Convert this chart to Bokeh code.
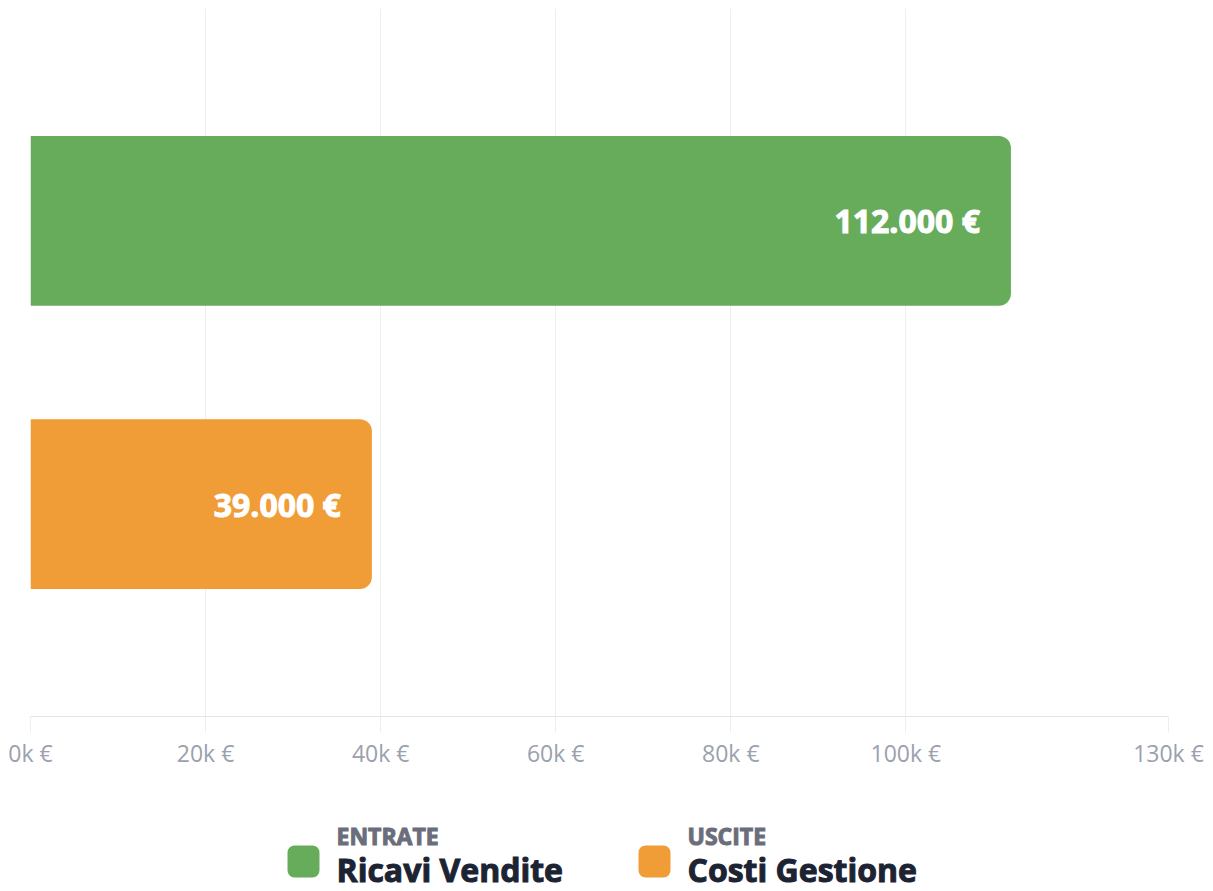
from bokeh.plotting import figure
from bokeh.layouts import column
from bokeh.models import Range1d, FixedTicker, ColumnDataSource
from bokeh.core.properties import value
from bokeh.embed import file_html
from bokeh.resources import INLINE

# ---- data ----
groups = ["ENTRATE", "USCITE"]
names = ["Ricavi Vendite", "Costi Gestione"]
amounts = [112000, 39000]
bar_labels = ["112.000 €", "39.000 €"]
colors = ["#67ac5b", "#f09d38"]
tick_values = [0, 20000, 40000, 60000, 80000, 100000, 130000]
tick_labels = ["0k €", "20k €", "40k €", "60k €", "80k €", "100k €", "130k €"]

W = 1213
H_MAIN = 790
H_LEG = 101
FONT = "Open Sans"
BL, BR = 30, 45

ypos = list(range(len(amounts)))
src = ColumnDataSource(dict(y=ypos, right=amounts, color=colors, label=bar_labels))

p = figure(width=W, height=H_MAIN, output_backend="svg", toolbar_location=None,
           x_range=Range1d(0, 130000), y_range=Range1d(1.75, -0.75),
           min_border_left=BL, min_border_right=BR, min_border_top=8, min_border_bottom=74)
p.outline_line_color = None
p.background_fill_color = "white"
p.border_fill_color = "white"

p.hbar(y="y", left=0, right="right", height=0.6, fill_color="color", line_color=None,
       border_radius=(0, 12, 12, 0), source=src)
p.text(x="right", y="y", text="label", source=src, x_offset=-31,
       text_align="right", text_baseline="middle", text_color="white",
       text_outline_color="white",
       text_font=value(FONT), text_font_style="bold", text_font_size="32px")

p.yaxis.visible = False
p.ygrid.visible = False
p.xgrid.grid_line_color = "#eceef1"
p.xgrid.grid_line_width = 1
p.xaxis.ticker = FixedTicker(ticks=tick_values)
p.xaxis.major_label_overrides = {v: l for v, l in zip(tick_values, tick_labels)}
p.xaxis.axis_line_color = "#e2e4e8"
p.xaxis.major_tick_line_color = "#eceef1"
p.xaxis.major_tick_out = 16
p.xaxis.major_tick_in = 0
p.xaxis.minor_tick_line_color = None
p.xaxis.major_label_standoff = 4
p.xaxis.major_label_text_font = FONT
p.xaxis.major_label_text_font_size = "23px"
p.xaxis.major_label_text_color = "#9ba1ad"

# ---- legend strip (pixel-like coordinates, frame aligned with main plot) ----
leg = figure(width=W, height=H_LEG, output_backend="svg", toolbar_location=None,
             x_range=Range1d(BL, W - BR), y_range=Range1d(H_LEG, 0),
             min_border_left=BL, min_border_right=BR, min_border_top=0, min_border_bottom=0)
leg.outline_line_color = None
leg.axis.visible = False
leg.grid.visible = False

x0 = [287 + i * 351 for i in range(len(names))]
lsrc = ColumnDataSource(dict(
    left=x0, right=[x + 32 for x in x0], top=[55] * len(x0), bottom=[87] * len(x0),
    tx=[x + 49 for x in x0], color=colors, group=groups, name=names))
leg.quad(left="left", right="right", top="top", bottom="bottom", fill_color="color",
         line_color=None, border_radius=7, source=lsrc)
leg.text(x="tx", y=45, text="group", source=lsrc, text_baseline="middle",
         text_font=value(FONT), text_font_style="bold", text_font_size="23px",
         text_color="#6b6e7a", text_outline_color="#6b6e7a")
leg.text(x="tx", y=79, text="name", source=lsrc, text_baseline="middle",
         text_font=value(FONT), text_font_style="bold", text_font_size="32px",
         text_color="#1c2333", text_outline_color="#1c2333")

layout = column(p, leg, spacing=0)
open("out.html", "w").write(file_html(layout, INLINE))
